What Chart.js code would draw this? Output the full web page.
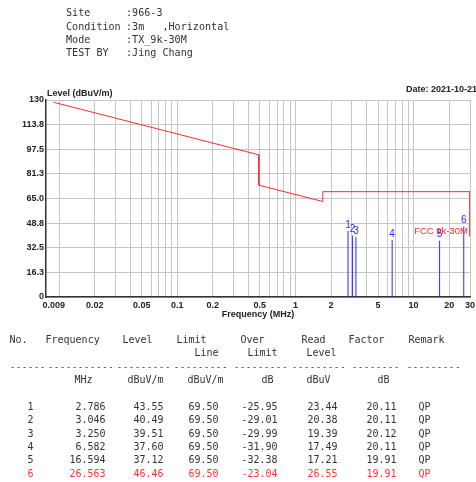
<!DOCTYPE html>
<html>
<head>
<meta charset="utf-8">
<script src="https://cdn.jsdelivr.net/npm/chart.js@4.4.0/dist/chart.umd.min.js"></script>
<style>
  html, body { margin: 0; padding: 0; background: #fff; }
  #page { position: relative; width: 476px; height: 482px; overflow: hidden; }
  #chartBox { position: absolute; left: 0; top: 0; width: 476px; height: 482px; }
  .t {
    position: absolute;
    font-family: "DejaVu Sans Mono", "Liberation Mono", monospace;
    font-size: 10px;
    line-height: 12px;
    color: #333;
    white-space: pre;
  }
  .dash { font-size: 8.5px; letter-spacing: 0.9px; color: #222; }
</style>
</head>
<body>
<div id="page">
  <div id="chartBox"><canvas id="chart"></canvas></div>
</div>
<script>
// test info
const infoNames = ["Site", "Condition", "Mode", "TEST BY"];
const infoValues = [":966-3", ":3m   ,Horizontal", ":TX_9k-30M", ":Jing Chang"];

// limit line (FCC 9k-30M), MHz / dBuV/m
const limitFreq = [0.009, 0.49, 0.49, 1.705, 1.705, 30, 30];
const limitLevel = [128.5, 93.8, 73.8, 63.0, 69.5, 69.5, 40.0];

// peaks
const peakNo = ["1", "2", "3", "4", "5", "6"];
const peakFreq = [2.786, 3.046, 3.250, 6.582, 16.594, 26.563];
const peakLevel = [43.55, 40.49, 39.51, 37.60, 37.12, 46.46];
const peakLimit = [69.50, 69.50, 69.50, 69.50, 69.50, 69.50];
const peakOver = [-25.95, -29.01, -29.99, -31.90, -32.38, -23.04];
const peakRead = [23.44, 20.38, 19.39, 17.49, 17.21, 26.55];
const peakFactor = [20.11, 20.11, 20.12, 20.11, 19.91, 19.91];
const peakRemark = ["QP", "QP", "QP", "QP", "QP", "QP"];

// axes
const xLabelValues = [0.009, 0.02, 0.05, 0.1, 0.2, 0.5, 1, 2, 5, 10, 20, 30];
const xLabelTexts = ["0.009", "0.02", "0.05", "0.1", "0.2", "0.5", "1", "2", "5", "10", "20", "30"];
const xGridValues = [0.01, 0.02, 0.03, 0.04, 0.05, 0.06, 0.07, 0.08, 0.09,
  0.1, 0.2, 0.3, 0.4, 0.5, 0.6, 0.7, 0.8, 0.9,
  1, 2, 3, 4, 5, 6, 7, 8, 9, 10, 20, 30];
const yTickValues = [0, 16.25, 32.5, 48.75, 65, 81.25, 97.5, 113.75, 130];
const yTickLabels = ["0", "16.3", "32.5", "48.8", "65.0", "81.3", "97.5", "113.8", "130"];

const sansBold = 'bold 9px "Liberation Sans", Arial, sans-serif';
const blue = "#2a2aff";
const red = "#ff2a2a";

const xTickValues = [0.009].concat(xGridValues);

const limitData = limitFreq.map((f, i) => ({ x: f, y: limitLevel[i] }));
const peakSets = peakFreq.map((f, i) => ({
  data: [{ x: f, y: 0 }, { x: f, y: peakLevel[i] }],
  borderColor: blue,
  borderWidth: 1,
  pointRadius: 0,
  order: 2
}));

const chartTexts = {
  id: "chartTexts",
  afterDatasetsDraw(chart) {
    const { ctx, chartArea, scales } = chart;
    ctx.save();
    ctx.textBaseline = "middle";
    ctx.font = sansBold;
    ctx.fillStyle = "#222";
    ctx.textAlign = "left";
    ctx.fillText("Level (dBuV/m)", chartArea.left + 1, chartArea.top - 6);
    ctx.textAlign = "right";
    ctx.fillText("Date: 2021-10-21", chart.width + 1, chartArea.top - 10);

    ctx.font = '9.5px "Liberation Sans", Arial, sans-serif';
    ctx.fillStyle = red;
    ctx.fillText("FCC 9k-30M", chartArea.right - 2, chartArea.bottom - 66);

    ctx.font = '10px "Liberation Sans", Arial, sans-serif';
    ctx.fillStyle = blue;
    ctx.textAlign = "center";
    peakFreq.forEach((f, i) => {
      ctx.fillText(peakNo[i], scales.x.getPixelForValue(f), scales.y.getPixelForValue(peakLevel[i]) - 6);
    });
    ctx.restore();
  }
};

new Chart(document.getElementById("chart"), {
  type: "line",
  data: {
    datasets: [{
      data: limitData,
      borderColor: red,
      borderWidth: 1,
      pointRadius: 0,
      tension: 0,
      order: 1
    }].concat(peakSets)
  },
  options: {
    responsive: true,
    maintainAspectRatio: false,
    animation: false,
    layout: { padding: { left: 0, top: 100, right: 6, bottom: 155 } },
    plugins: { legend: { display: false }, tooltip: { enabled: false } },
    scales: {
      x: {
        type: "logarithmic",
        min: 0.00775,
        max: 30,
        afterBuildTicks: (scale) => { scale.ticks = xTickValues.map(v => ({ value: v })); },
        afterFit: (scale) => { scale.height = 30; scale.paddingLeft = 0; scale.paddingRight = 0; },
        ticks: {
          autoSkip: false,
          maxRotation: 0,
          padding: 3,
          color: "#222",
          font: { family: '"Liberation Sans", Arial, sans-serif', size: 9, weight: "bold" },
          callback: (value) => {
            const k = xLabelValues.indexOf(value);
            return k < 0 ? "" : xLabelTexts[k];
          }
        },
        grid: {
          drawTicks: false,
          color: (c) => (c.tick && c.tick.value === 0.009 ? "rgba(0,0,0,0)" : "#c6c6c6")
        },
        border: { color: "#333", width: 1.5 },
        title: {
          display: true,
          text: "Frequency (MHz)",
          color: "#222",
          padding: { top: 0, bottom: 7.5 },
          font: { family: '"Liberation Sans", Arial, sans-serif', size: 9, weight: "bold" }
        }
      },
      y: {
        min: 0,
        max: 130,
        afterBuildTicks: (scale) => { scale.ticks = yTickValues.map(v => ({ value: v })); },
        afterFit: (scale) => { scale.width = 46; scale.paddingTop = 0; scale.paddingBottom = 0; },
        ticks: {
          padding: 2,
          color: "#222",
          font: { family: '"Liberation Sans", Arial, sans-serif', size: 9, weight: "bold" },
          callback: (value, index) => yTickLabels[index]
        },
        grid: { drawTicks: false, color: "#c6c6c6" },
        border: { color: "#333", width: 1.5 }
      }
    }
  },
  plugins: [chartTexts]
});

// text blocks
const page = document.getElementById("page");
function put(text, x, cy, align, color, size, cls) {
  const d = document.createElement("div");
  d.className = cls ? "t " + cls : "t";
  d.textContent = text;
  if (size) d.style.fontSize = size + "px";
  if (color) d.style.color = color;
  d.style.top = (cy - 5.8) + "px";
  if (align === "right") {
    d.style.left = (x - 200) + "px";
    d.style.width = "200px";
    d.style.textAlign = "right";
  } else {
    d.style.left = x + "px";
  }
  page.appendChild(d);
}

infoNames.forEach((n, i) => {
  put(n, 66, 13 + i * 13.4, "left", null, 10.1);
  put(infoValues[i], 126, 13 + i * 13.4, "left", null, 10.1);
});

put("No.", 9.5, 340); put("Frequency", 45.5, 340); put("Level", 122.5, 340); put("Limit", 176.5, 340);
put("Over", 240.5, 340); put("Read", 301.5, 340); put("Factor", 348.5, 340); put("Remark", 408.5, 340);
put("Line", 194.5, 353); put("Limit", 247.5, 353); put("Level", 306.5, 353);

const dashStarts = [10, 48, 117, 174, 234, 292, 352, 407];
const dashCounts = [6, 11, 9, 9, 9, 9, 8, 9];
dashStarts.forEach((x, i) => put("-".repeat(dashCounts[i]), x, 366.5, "left", null, null, "dash"));

put("MHz", 74.5, 380); put("dBuV/m", 127.5, 380); put("dBuV/m", 187.5, 380);
put("dB", 261.5, 380); put("dBuV", 306.5, 380); put("dB", 377.5, 380);

peakNo.forEach((no, i) => {
  const cy = 406.5 + i * 13.4;
  const col = i === 5 ? "#ff3333" : null;
  put(no, 27.5, cy, "left", col);
  put(peakFreq[i].toFixed(3), 105.5, cy, "right", col);
  put(peakLevel[i].toFixed(2), 163.5, cy, "right", col);
  put(peakLimit[i].toFixed(2), 218.5, cy, "right", col);
  put(peakOver[i].toFixed(2), 277.5, cy, "right", col);
  put(peakRead[i].toFixed(2), 337.5, cy, "right", col);
  put(peakFactor[i].toFixed(2), 396.5, cy, "right", col);
  put(peakRemark[i], 418.5, cy, "left", col);
});
</script>
</body>
</html>
